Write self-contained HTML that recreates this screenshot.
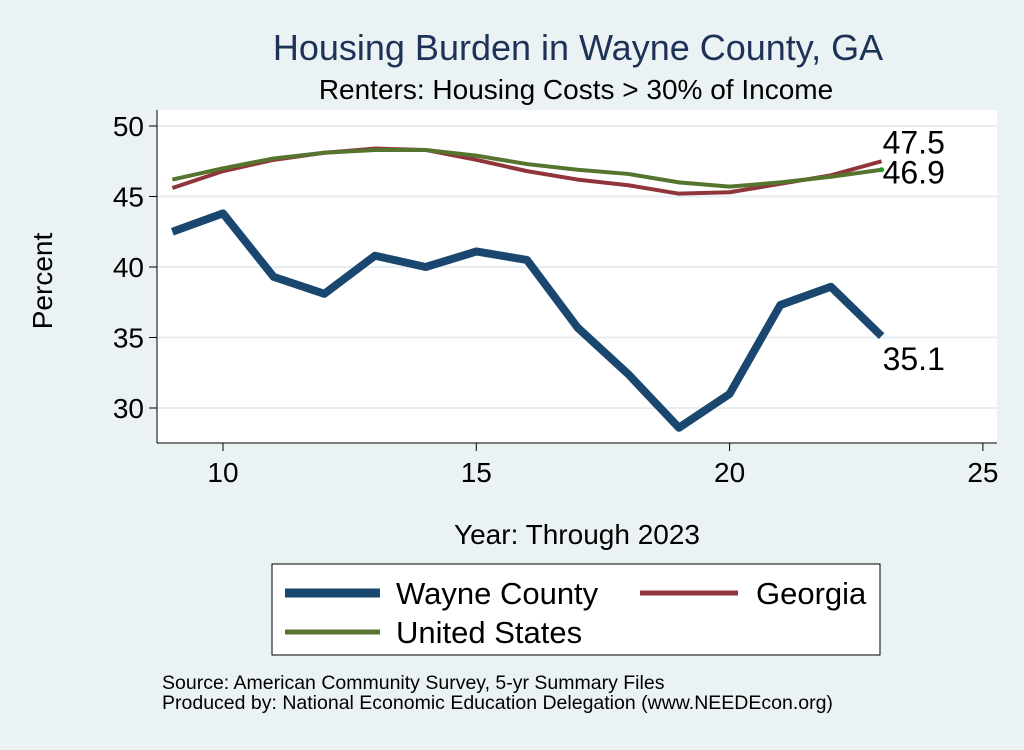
<!DOCTYPE html>
<html><head><meta charset="utf-8"><style>
body{margin:0;background:#eaf2f3;font-family:"Liberation Sans",sans-serif;}
svg text{font-family:"Liberation Sans",sans-serif;}
</style></head><body>
<svg id="chart" width="1024" height="745">
<rect x="0" y="0" width="1024" height="745" fill="#eaf2f3"/>
<text x="578" y="60" font-size="36" fill="#1e3258" text-anchor="middle">Housing Burden in Wayne County, GA</text>
<text x="576" y="99" font-size="28" fill="#000" text-anchor="middle">Renters: Housing Costs &gt; 30% of Income</text>
<rect x="157" y="110" width="840" height="333" fill="#fff"/>
<g id="grid"></g><g id="axes"></g><g id="series"></g>
<text x="52" y="281" font-size="28" text-anchor="middle" transform="rotate(-90 52 281)">Percent</text>
<text x="577" y="544" font-size="28" text-anchor="middle">Year: Through 2023</text>
<g>
<rect x="272" y="564" width="608" height="91" fill="#fff" stroke="#000" stroke-width="1"/>
<line x1="285" y1="593" x2="380" y2="593" stroke="#1a476f" stroke-width="9"/>
<text x="396" y="604" font-size="31">Wayne County</text>
<line x1="640" y1="593" x2="738" y2="593" stroke="#90353b" stroke-width="5"/>
<text x="756" y="604" font-size="31">Georgia</text>
<line x1="285" y1="632" x2="380" y2="632" stroke="#55752f" stroke-width="5"/>
<text x="396" y="643" font-size="31">United States</text>
</g>
<text x="162" y="689" font-size="19.5">Source: American Community Survey, 5-yr Summary Files</text>
<text x="162" y="709" font-size="19.5">Produced by: National Economic Education Delegation (www.NEEDEcon.org)</text>
</svg>
<script>
const years=[9,10,11,12,13,14,15,16,17,18,19,20,21,22,23];
const wayne=[42.5,43.8,39.3,38.1,40.8,40.0,41.1,40.5,35.7,32.4,28.6,31.0,37.3,38.6,35.1];
const georgia=[45.6,46.8,47.6,48.1,48.4,48.3,47.6,46.8,46.2,45.8,45.2,45.3,45.9,46.5,47.5];
const us=[46.2,47.0,47.7,48.1,48.3,48.3,47.9,47.3,46.9,46.6,46.0,45.7,46.0,46.4,46.9];
const xTicks=[10,15,20,25];
const yTicks=[30,35,40,45,50];
const X=v=>223+(v-10)*50.66;
const Y=v=>126+(50-v)*14.1;
const NS="http://www.w3.org/2000/svg";
function mk(tag,attrs,parent){const e=document.createElementNS(NS,tag);for(const k in attrs)e.setAttribute(k,attrs[k]);parent.appendChild(e);return e;}
const grid=document.getElementById('grid'),axes=document.getElementById('axes'),ser=document.getElementById('series');
mk('line',{x1:157,y1:110,x2:157,y2:443,stroke:'#000','stroke-width':1},axes);
mk('line',{x1:157,y1:443,x2:997,y2:443,stroke:'#000','stroke-width':1},axes);
yTicks.forEach(t=>{
 const g=mk('line',{x1:157,x2:997,y1:Y(t),y2:Y(t),stroke:'#e6eef0','stroke-width':2},grid);
 
 
 mk('line',{x1:149,x2:157,y1:Y(t),y2:Y(t),stroke:'#000'},axes);
 const tx=mk('text',{x:144,y:Y(t)+10,'font-size':28,'text-anchor':'end'},axes);tx.textContent=t;
 
 
});
xTicks.forEach(t=>{
 mk('line',{x1:X(t),x2:X(t),y1:443,y2:451,stroke:'#000'},axes);
 const tx=mk('text',{x:X(t),y:482,'font-size':28,'text-anchor':'middle'},axes);tx.textContent=t;
 
 
});
function line(vals,color,w,name){
 const p=mk('polyline',{points:years.map((y,i)=>X(y)+','+Y(vals[i])).join(' '),fill:'none',stroke:color,'stroke-width':w,'stroke-linejoin':'round'},ser);
 
 
}
line(wayne,'#1a476f',8,'line-wayne');
line(georgia,'#90353b',4,'line-georgia');
line(us,'#55752f',4,'line-us');
const n=years.length-1;
mk('circle',{cx:X(years[n]),cy:Y(us[n]),r:2.5,fill:'#1f9e1f'},ser);
[[georgia[n],Y(georgia[n])-8,'label-georgia-last'],[us[n],Y(us[n])+14,'label-us-last'],[wayne[n],Y(wayne[n])+34,'label-wayne-last']].forEach(([v,y,nm])=>{
 const t=mk('text',{x:X(years[n])+1,y:y,'font-size':32},ser);t.textContent=v.toFixed(1);
 
 
});
</script>
</body></html>
